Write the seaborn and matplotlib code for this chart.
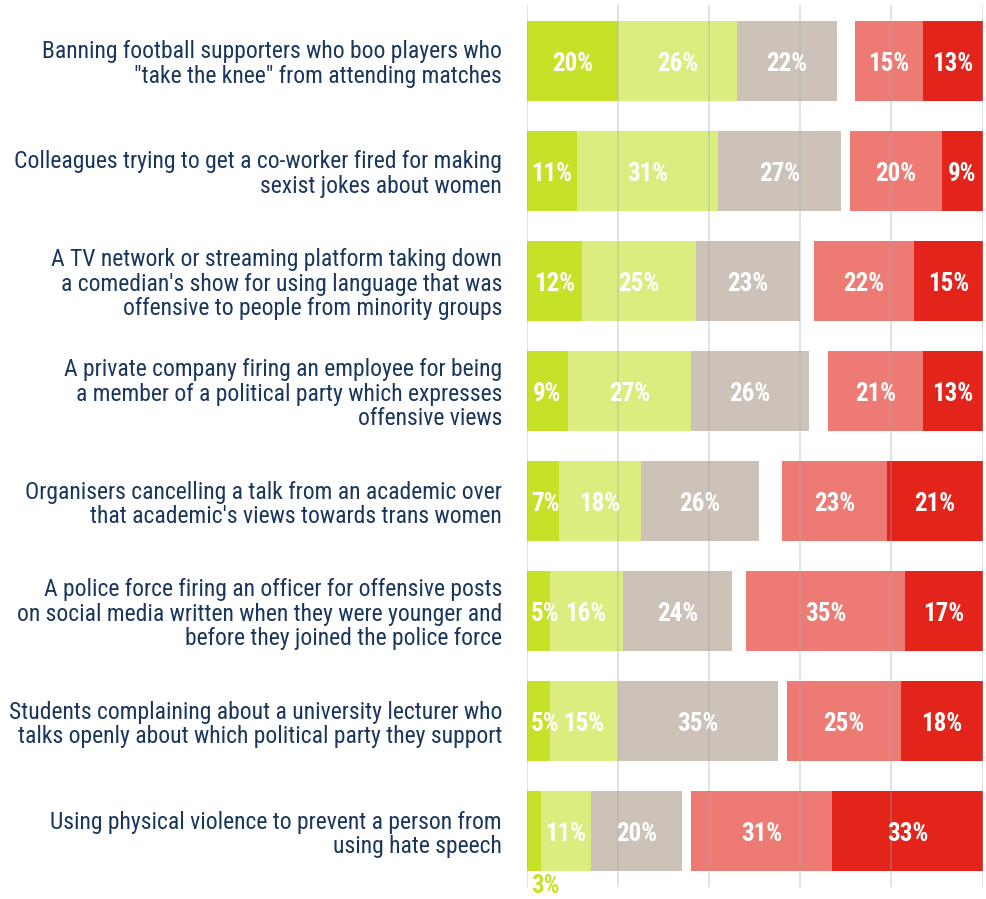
import numpy as np
import pandas as pd
import seaborn as sns
import matplotlib.pyplot as plt

# data
statements = [
    'Banning football supporters who boo players who\n"take the knee" from attending matches',
    'Colleagues trying to get a co-worker fired for making\nsexist jokes about women',
    "A TV network or streaming platform taking down\na comedian's show for using language that was\noffensive to people from minority groups",
    'A private company firing an employee for being\na member of a political party which expresses\noffensive views',
    "Organisers cancelling a talk from an academic over\nthat academic's views towards trans women",
    'A police force firing an officer for offensive posts\non social media written when they were younger and\nbefore they joined the police force',
    'Students complaining about a university lecturer who\ntalks openly about which political party they support',
    'Using physical violence to prevent a person from\nusing hate speech',
]
strongly_acceptable = [20, 11, 12, 9, 7, 5, 5, 3]
somewhat_acceptable = [26, 31, 25, 27, 18, 16, 15, 11]
neither = [22, 27, 23, 26, 26, 24, 35, 20]
somewhat_unacceptable = [15, 20, 22, 21, 23, 35, 25, 31]
strongly_unacceptable = [13, 9, 15, 13, 21, 17, 18, 33]

colors = ['#c7e128', '#dced7f', '#cdc2b8', '#ffffff', '#ed7b74', '#e2241b']
navy = '#1b365d'

sns.set_theme(style='white')
plt.rcParams['font.family'] = ['Roboto Condensed', 'Liberation Sans Narrow', 'DejaVu Sans']

df = pd.DataFrame({
    'statement': [str(i) for i in range(len(statements))],
    'g1': strongly_acceptable,
    'g2': somewhat_acceptable,
    'nt': neither,
    'r1': somewhat_unacceptable,
    'r2': strongly_unacceptable,
})
df['dk'] = 100 - df[['g1', 'g2', 'nt', 'r1', 'r2']].sum(axis=1)  # gap = don't know
order = ['g1', 'g2', 'nt', 'dk', 'r1', 'r2']
cum = df[order].cumsum(axis=1)

fig = plt.figure(figsize=(9.86, 8.99), dpi=100)
ax = fig.add_axes([527 / 986, 12 / 899, 455.5 / 986, 882 / 899])

# stacked bars by overlapping cumulative sums, longest first
for col, c in zip(order[::-1], colors[::-1]):
    sns.barplot(data=cum, x=col, y=df['statement'], color=c, width=0.72,
                linewidth=0, saturation=1, ax=ax, orient='h')

ax.set_xlim(0, 100)
ax.set_ylim(7.509, -0.509)
ax.set_xticks([0, 20, 40, 60, 80, 100])
ax.set_xticklabels([])
ax.set_yticks(range(len(statements)))
ax.set_yticklabels(statements, fontsize=17, color=navy, linespacing=1.07, ha='right')
ax.tick_params(axis='both', length=0)
ax.tick_params(axis='y', pad=18)
ax.set_xlabel('')
ax.set_ylabel('')
for s in ax.spines.values():
    s.set_visible(False)
ax.set_axisbelow(False)
ax.xaxis.grid(True, color='#9aa8b5', lw=1.3, alpha=0.35)

# segment labels
for i in range(len(df)):
    for col in ['g1', 'g2', 'nt', 'r1', 'r2']:
        v = df.loc[i, col]
        left = cum.loc[i, col] - v
        x = left + v / 2
        if col == 'g1':
            x = max(x, 4.0)
        if v < 4:
            ax.text(x, i + 0.5, f'{v}%', ha='center', va='center', fontsize=18,
                    fontweight='bold', color=colors[0], clip_on=False)
        else:
            ax.text(x, i + 0.025, f'{v}%', ha='center', va='center', fontsize=18,
                    fontweight='bold', color='white')

fig.savefig('out.png', dpi=100)
